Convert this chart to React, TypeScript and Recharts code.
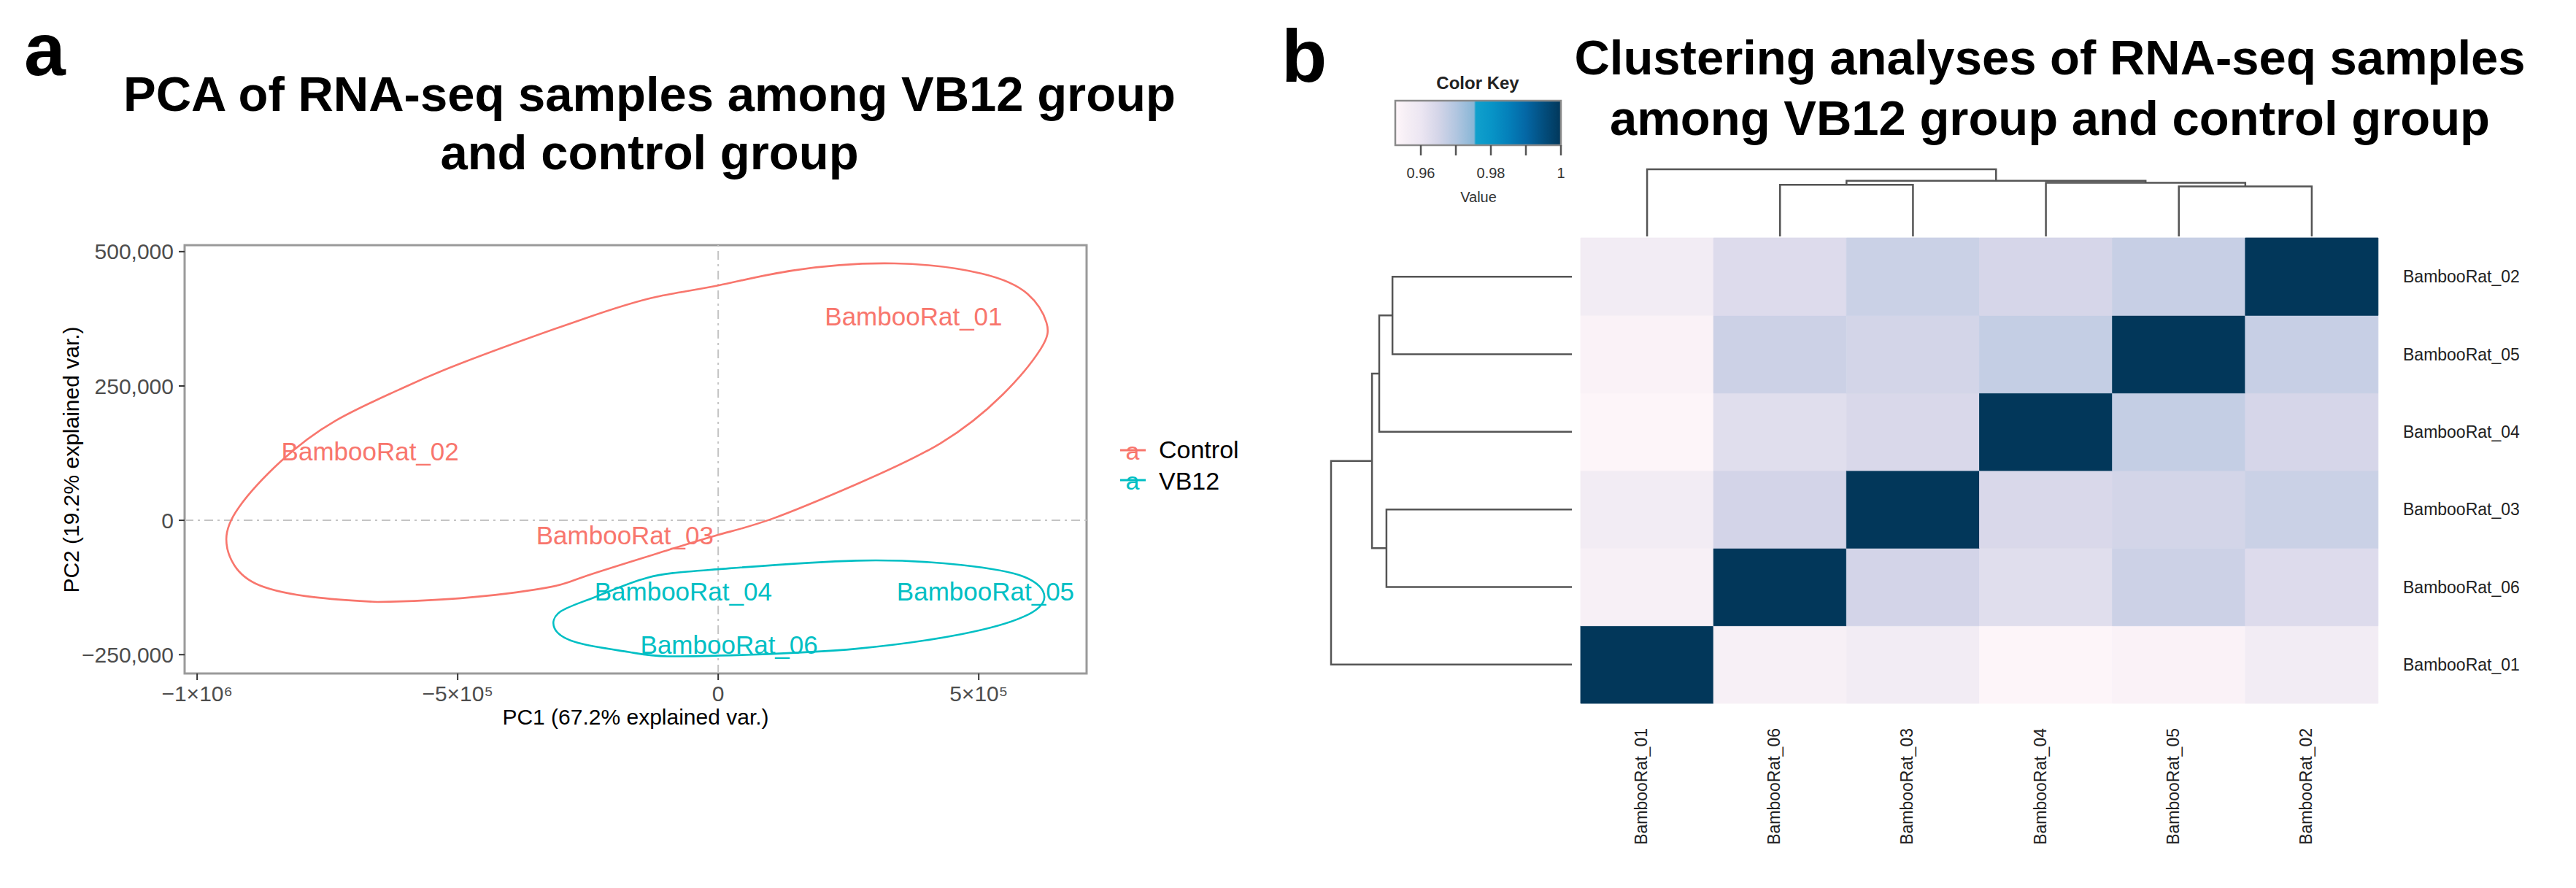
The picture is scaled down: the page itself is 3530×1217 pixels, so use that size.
import React from "react";
import {
  ScatterChart,
  Scatter,
  XAxis,
  YAxis,
  ReferenceLine,
  ReferenceArea,
  BarChart,
  Bar,
  Cell,
} from "recharts";

const FONT = '"Liberation Sans", Arial, Helvetica, sans-serif';
const CONTROL = "#F8766D";
const VB12 = "#00BFC4";

// ---- panel a: PCA ----
const sampleNames = ["BambooRat_01", "BambooRat_02", "BambooRat_03", "BambooRat_04", "BambooRat_05", "BambooRat_06"];
const sampleGroup = ["Control", "Control", "Control", "VB12", "VB12", "VB12"];
const pc1 = [375000, -668000, -179000, -67000, 513000, 21000];
const pc2 = [380000, 129000, -27000, -132000, -132000, -231000];

const pcXDomain = [-1024000, 707000];
const pcYDomain = [-285000, 512000];
const pcXTicks = [-1000000, -500000, 0, 500000];
const pcXTickLabels = ["\u22121\u00d710\u2076", "\u22125\u00d710\u2075", "0", "5\u00d710\u2075"];
const pcYTicks = [-250000, 0, 250000, 500000];

// ellipse outlines (PC1, PC2)
const ellipseControl = [
  { x: -654000, y: -152000 }, { x: -776000, y: -143000 }, { x: -880000, y: -121000 },
  { x: -929000, y: -83000 }, { x: -944000, y: -35000 }, { x: -920000, y: 24000 },
  { x: -839000, y: 110000 }, { x: -735000, y: 185000 }, { x: -615000, y: 242000 },
  { x: -494000, y: 292000 }, { x: -258000, y: 375000 }, { x: -118000, y: 416000 },
  { x: 0, y: 437000 }, { x: 144000, y: 465000 }, { x: 338000, y: 478000 },
  { x: 506000, y: 459000 }, { x: 594000, y: 421000 }, { x: 630000, y: 368000 },
  { x: 619000, y: 319000 }, { x: 546000, y: 234000 }, { x: 426000, y: 143000 },
  { x: 265000, y: 67000 }, { x: 104000, y: 3000 }, { x: 0, y: -27000 },
  { x: -118000, y: -62000 }, { x: -258000, y: -105000 }, { x: -333000, y: -126000 },
  { x: -494000, y: -145000 }, { x: -654000, y: -152000 },
];
const ellipseVB12 = [
  { x: 64000, y: -250000 }, { x: -97000, y: -253000 }, { x: -172000, y: -245000 },
  { x: -269000, y: -228000 }, { x: -314000, y: -201000 }, { x: -303000, y: -170000 },
  { x: -237000, y: -143000 }, { x: -137000, y: -107000 }, { x: 0, y: -91000 },
  { x: 265000, y: -75000 }, { x: 466000, y: -83000 }, { x: 587000, y: -105000 },
  { x: 626000, y: -143000 }, { x: 587000, y: -179000 }, { x: 466000, y: -212000 },
  { x: 265000, y: -239000 }, { x: 64000, y: -250000 },
];

// ---- panel b: correlation heatmap ----
const corr = [
  [1, 0.9572, 0.9572, 0.9533, 0.9544, 0.9553],
  [0.9572, 1, 0.9664, 0.9646, 0.9669, 0.9632],
  [0.9572, 0.9664, 1, 0.964, 0.9651, 0.9652],
  [0.9533, 0.9646, 0.964, 1, 0.9674, 0.9624],
  [0.9544, 0.9669, 0.9651, 0.9674, 1, 0.9662],
  [0.9553, 0.9632, 0.9652, 0.9624, 0.9662, 1],
];
// dendrogram leaf order (left->right, bottom->top)
const leafOrder = [0, 5, 2, 3, 4, 1];
const mergePairs = [["05", "02"], ["06", "03"], ["04", "m1"], ["m2", "m3"], ["01", "m4"]];
const mergeHeights = [0.745, 0.77, 0.8, 0.83, 1.0];

// color key
const keyValues = [0.9527, 0.956, 0.96, 0.965, 0.97, 0.9752, 0.9757, 0.98, 0.985, 0.99, 0.995, 1.0];
const keyColors = ["#FFF6FA", "#F5EEF5", "#ECE6F2", "#D4D5E8", "#B2C6E0", "#88B6D6", "#10A0CC", "#0895C7", "#0480BA", "#0467A5", "#034E7E", "#02375A"];
const keyTicks = [0.96, 0.97, 0.98, 0.99, 1];
const keyTickLabels: Record<string, string> = { "0.96": "0.96", "0.98": "0.98", "1": "1" };

function hexToRgb(h: string) {
  return [parseInt(h.slice(1, 3), 16), parseInt(h.slice(3, 5), 16), parseInt(h.slice(5, 7), 16)];
}
function colorFor(v: number) {
  if (v <= keyValues[0]) return keyColors[0];
  for (let i = 1; i < keyValues.length; i++) {
    if (v <= keyValues[i]) {
      const t = (v - keyValues[i - 1]) / (keyValues[i] - keyValues[i - 1]);
      const a = hexToRgb(keyColors[i - 1]);
      const b = hexToRgb(keyColors[i]);
      const c = a.map((ch, k) => Math.round(ch + (b[k] - ch) * t));
      return `rgb(${c[0]},${c[1]},${c[2]})`;
    }
  }
  return keyColors[keyColors.length - 1];
}

const heatRows = leafOrder.map((ci) => {
  const row: any = { col: sampleNames[ci] };
  leafOrder.forEach((ri, k) => {
    row["h" + k] = 1;
    row["v" + k] = corr[ri][ci];
  });
  return row;
});

// dendrogram node positions
const nodePos: Record<string, number> = {};
const nodeH: Record<string, number> = {};
leafOrder.forEach((si, p) => {
  const id = sampleNames[si].slice(-2);
  nodePos[id] = p + 0.5;
  nodeH[id] = 0;
});
const merges = mergePairs.map(([l, r], i) => {
  const id = "m" + (i + 1);
  nodePos[id] = (nodePos[l] + nodePos[r]) / 2;
  nodeH[id] = mergeHeights[i];
  return { l, r, h: mergeHeights[i] };
});

const noDot = () => <g />;

const pcaPoints = sampleNames.map((n, i) => ({ name: n, group: sampleGroup[i], x: pc1[i], y: pc2[i] }));

function labelShape(color: string) {
  return (props: any) => (
    <text x={props.cx} y={props.cy} dy="0.36em" textAnchor="middle" fontSize={35} fontFamily={FONT} fill={color}>
      {props.payload.name}
    </text>
  );
}

function ColTick(props: any) {
  const { x, y, payload } = props;
  const ty = y + 34;
  return (
    <text x={x} y={ty} transform={`rotate(-90 ${x} ${ty})`} textAnchor="end" fontSize={23} fontFamily={FONT} fill="#222">
      {payload.value}
    </text>
  );
}

const fmtY = (v: number) => (v === 0 ? "0" : (v < 0 ? "\u2212" : "") + Math.abs(v).toLocaleString("en-US"));

const dendroLine = { stroke: "#555", strokeWidth: 2.5 };

export default function App() {
  return (
    <div style={{ position: "relative", width: 3514, height: 1201, fontFamily: FONT }}>
      {/* panel a chart */}
      <div style={{ position: "absolute", left: 0, top: 0 }}>
        <ScatterChart width={1700} height={1100} margin={{ top: 328, right: 219, bottom: 105, left: 145 }}>
          <XAxis
            type="number"
            dataKey="x"
            domain={pcXDomain}
            ticks={pcXTicks}
            interval={0}
            allowDataOverflow
            axisLine={false}
            tickSize={9}
            tickMargin={8}
            height={80}
            tickLine={{ stroke: "#333", strokeWidth: 2 }}
            tick={{ fill: "#4D4D4D", fontSize: 30, fontFamily: FONT }}
            tickFormatter={(v: number) => pcXTickLabels[pcXTicks.indexOf(v)]}
          />
          <YAxis
            type="number"
            dataKey="y"
            domain={pcYDomain}
            ticks={pcYTicks}
            interval={0}
            allowDataOverflow
            axisLine={false}
            tickSize={8}
            tickMargin={7}
            width={100}
            tickLine={{ stroke: "#333", strokeWidth: 2 }}
            tick={{ fill: "#4D4D4D", fontSize: 30, fontFamily: FONT }}
            tickFormatter={fmtY}
          />
          <ReferenceLine x={0} stroke="#C4C4C4" strokeWidth={2} strokeDasharray="12 6 3 6" />
          <ReferenceLine y={0} stroke="#C4C4C4" strokeWidth={2} strokeDasharray="12 6 3 6" />
          <Scatter data={ellipseControl} line={{ stroke: CONTROL, strokeWidth: 2.6 }} lineJointType="natural" shape={noDot} isAnimationActive={false} />
          <Scatter data={ellipseVB12} line={{ stroke: VB12, strokeWidth: 2.6 }} lineJointType="natural" shape={noDot} isAnimationActive={false} />
          <Scatter data={pcaPoints.filter((p) => p.group === "Control")} shape={labelShape(CONTROL)} isAnimationActive={false} />
          <Scatter data={pcaPoints.filter((p) => p.group === "VB12")} shape={labelShape(VB12)} isAnimationActive={false} />
          <ReferenceArea
            x1={pcXDomain[0]}
            x2={pcXDomain[1]}
            y1={pcYDomain[0]}
            y2={pcYDomain[1]}
            fill="none"
            stroke="#9A9A9A"
            strokeWidth={3}
            ifOverflow="visible"
          />
        </ScatterChart>
      </div>

      {/* color key */}
      <div style={{ position: "absolute", left: 1842, top: 92 }}>
        <ScatterChart width={350} height={220} margin={{ top: 38, right: 61, bottom: 61, left: 62 }}>
          <defs>
            <linearGradient id="ckGrad" x1="0" x2="1" y1="0" y2="0">
              {keyValues.map((v, i) => (
                <stop key={i} offset={(v - keyValues[0]) / (1 - keyValues[0])} stopColor={keyColors[i]} />
              ))}
            </linearGradient>
          </defs>
          <XAxis
            type="number"
            dataKey="v"
            domain={[keyValues[0], 1]}
            ticks={keyTicks}
            interval={0}
            height={60}
            axisLine={false}
            tickSize={14}
            tickMargin={17}
            tickLine={{ stroke: "#555", strokeWidth: 2.5 }}
            tick={{ fill: "#333", fontSize: 20, fontFamily: FONT }}
            tickFormatter={(v: number) => keyTickLabels[String(v)] || ""}
          />
          <YAxis type="number" dataKey="y" domain={[0, 1]} width={0} tick={false} axisLine={false} tickLine={false} />
          <ReferenceArea
            x1={keyValues[0]}
            x2={1}
            y1={0}
            y2={1}
            fill="url(#ckGrad)"
            fillOpacity={1}
            stroke="#8A8A8A"
            strokeWidth={2.5}
            ifOverflow="visible"
          />
          <Scatter data={keyTicks.map((v) => ({ v, y: 0.5 }))} shape={noDot} isAnimationActive={false} />
        </ScatterChart>
      </div>

      {/* top dendrogram */}
      <div style={{ position: "absolute", left: 2092, top: 192 }}>
        <ScatterChart width={1200} height={200} margin={{ top: 32, right: 41, bottom: 76, left: 66 }}>
          <XAxis hide type="number" dataKey="x" domain={[0, 6]} />
          <YAxis hide type="number" dataKey="y" domain={[0, 1]} />
          {merges.map((m, i) => (
            <Scatter
              key={i}
              data={[
                { x: nodePos[m.l], y: nodeH[m.l] },
                { x: nodePos[m.l], y: m.h },
                { x: nodePos[m.r], y: m.h },
                { x: nodePos[m.r], y: nodeH[m.r] },
              ]}
              line={dendroLine}
              shape={noDot}
              isAnimationActive={false}
            />
          ))}
        </ScatterChart>
      </div>

      {/* left dendrogram */}
      <div style={{ position: "absolute", left: 1772, top: 292 }}>
        <ScatterChart width={400} height={700} margin={{ top: 26, right: 26, bottom: 36, left: 44 }}>
          <XAxis hide type="number" dataKey="x" domain={[0, 1]} reversed />
          <YAxis hide type="number" dataKey="y" domain={[0, 6]} />
          {merges.map((m, i) => (
            <Scatter
              key={i}
              data={[
                { x: nodeH[m.l], y: nodePos[m.l] },
                { x: m.h, y: nodePos[m.l] },
                { x: m.h, y: nodePos[m.r] },
                { x: nodeH[m.r], y: nodePos[m.r] },
              ]}
              line={dendroLine}
              shape={noDot}
              isAnimationActive={false}
            />
          ))}
        </ScatterChart>
      </div>

      {/* heatmap */}
      <div style={{ position: "absolute", left: 2092, top: 292 }}>
        <BarChart width={1420} height={900} data={heatRows} margin={{ top: 26, right: 11, bottom: 36, left: 66 }} barCategoryGap={0} barGap={0}>
          <XAxis dataKey="col" height={200} interval={0} axisLine={false} tickLine={false} tickSize={0} tickMargin={0} tick={(p: any) => <ColTick {...p} />} />
          <YAxis
            orientation="right"
            type="number"
            domain={[0, 6]}
            ticks={[0.5, 1.5, 2.5, 3.5, 4.5, 5.5]}
            interval={0}
            width={250}
            axisLine={false}
            tickLine={false}
            tickSize={0}
            tickMargin={34}
            tick={{ fill: "#222", fontSize: 23, fontFamily: FONT, textAnchor: "start" }}
            tickFormatter={(v: number) => sampleNames[leafOrder[Math.floor(v)]]}
          />
          {leafOrder.map((_, k) => (
            <Bar key={k} dataKey={"h" + k} stackId="heat" isAnimationActive={false}>
              {heatRows.map((r, i) => (
                <Cell key={i} fill={colorFor(r["v" + k])} stroke={colorFor(r["v" + k])} strokeWidth={0.8} />
              ))}
            </Bar>
          ))}
        </BarChart>
      </div>

      {/* text overlay */}
      <svg width={3514} height={1201} style={{ position: "absolute", left: 0, top: 0, pointerEvents: "none" }}>
        <g transform="translate(-8,-8)" fontFamily={FONT}>
          <text x={33} y={103} fontSize={102} fontWeight="bold" fill="#000">a</text>
          <text x={890} y={152} fontSize={67} fontWeight="bold" textAnchor="middle" fill="#000">PCA of RNA-seq samples among VB12 group</text>
          <text x={890} y={232} fontSize={67} fontWeight="bold" textAnchor="middle" fill="#000">and control group</text>
          <text x={871} y={993} fontSize={30} textAnchor="middle" fill="#000">PC1 (67.2% explained var.)</text>
          <text x={97} y={630} dy="0.35em" fontSize={30} textAnchor="middle" fill="#000" transform="rotate(-90 97 630)">PC2 (19.2% explained var.)</text>

          <line x1={1535} x2={1570} y1={617} y2={617} stroke={CONTROL} strokeWidth={3} />
          <text x={1552} y={630} fontSize={34} textAnchor="middle" fill={CONTROL}>a</text>
          <text x={1588} y={628} fontSize={34} fill="#000">Control</text>
          <line x1={1535} x2={1570} y1={658} y2={658} stroke={VB12} strokeWidth={3} />
          <text x={1552} y={671} fontSize={34} textAnchor="middle" fill={VB12}>a</text>
          <text x={1588} y={671} fontSize={34} fill="#000">VB12</text>

          <text x={1756} y={112} fontSize={102} fontWeight="bold" fill="#000">b</text>
          <text x={2809} y={102} fontSize={67} fontWeight="bold" textAnchor="middle" fill="#000">Clustering analyses of RNA-seq samples</text>
          <text x={2809} y={185} fontSize={67} fontWeight="bold" textAnchor="middle" fill="#000">among VB12 group and control group</text>
          <text x={2025} y={122} fontSize={24} fontWeight="bold" textAnchor="middle" fill="#222">Color Key</text>
          <text x={2026} y={277} fontSize={20} textAnchor="middle" fill="#333">Value</text>
        </g>
      </svg>
    </div>
  );
}
